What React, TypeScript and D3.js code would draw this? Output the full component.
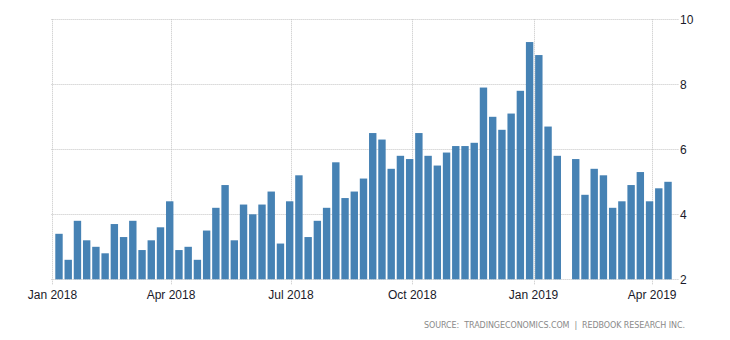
import React from "react";
import * as d3 from "d3";

const weekDates: string[] = [
  "2018-01-06","2018-01-13","2018-01-20","2018-01-27",
  "2018-02-03","2018-02-10","2018-02-17","2018-02-24",
  "2018-03-03","2018-03-10","2018-03-17","2018-03-24","2018-03-31",
  "2018-04-07","2018-04-14","2018-04-21","2018-04-28",
  "2018-05-05","2018-05-12","2018-05-19","2018-05-26",
  "2018-06-02","2018-06-09","2018-06-16","2018-06-23","2018-06-30",
  "2018-07-07","2018-07-14","2018-07-21","2018-07-28",
  "2018-08-04","2018-08-11","2018-08-18","2018-08-25",
  "2018-09-01","2018-09-08","2018-09-15","2018-09-22","2018-09-29",
  "2018-10-06","2018-10-13","2018-10-20","2018-10-27",
  "2018-11-03","2018-11-10","2018-11-17","2018-11-24",
  "2018-12-01","2018-12-08","2018-12-15","2018-12-22","2018-12-29",
  "2019-01-05","2019-01-12","2019-01-19","2019-01-26",
  "2019-02-02","2019-02-09","2019-02-16","2019-02-23",
  "2019-03-02","2019-03-09","2019-03-16","2019-03-23","2019-03-30",
  "2019-04-06","2019-04-13",
];

const salesGrowth: (number | null)[] = [
  3.4, 2.6, 3.8, 3.2, 3.0, 2.8, 3.7, 3.3, 3.8, 2.9, 3.2, 3.6, 4.4,
  2.9, 3.0, 2.6, 3.5, 4.2, 4.9, 3.2, 4.3, 4.0, 4.3, 4.7, 3.1, 4.4,
  5.2, 3.3, 3.8, 4.2, 5.6, 4.5, 4.7, 5.1, 6.5, 6.3, 5.4, 5.8, 5.7,
  6.5, 5.8, 5.5, 5.9, 6.1, 6.1, 6.2, 7.9, 7.0, 6.6, 7.1, 7.8, 9.3,
  8.9, 6.7, 5.8, null, 5.7, 4.6, 5.4, 5.2, 4.2, 4.4, 4.9, 5.3, 4.4,
  4.8, 5.0,
];

const xTickDates: string[] = ["2018-01-01", "2018-04-01", "2018-07-01", "2018-10-01", "2019-01-01", "2019-04-01"];
const xTickLabels: string[] = ["Jan 2018", "Apr 2018", "Jul 2018", "Oct 2018", "Jan 2019", "Apr 2019"];
const yTicks: number[] = [2, 4, 6, 8, 10];
const sourceText = "SOURCE:  TRADINGECONOMICS.COM  |  REDBOOK RESEARCH INC.";

const parse = d3.utcParse("%Y-%m-%d");

export default function App() {
  const width = 730;
  const height = 340;
  const left = 52.4;
  const right = 676;

  const x = d3
    .scaleUtc()
    .domain([parse("2018-01-01")!, parse("2019-04-01")!])
    .range([left, 652.2]);
  const y = d3.scaleLinear().domain([2, 10]).range([279.3, 19.3]);

  const barW = 7.4;
  const gridColor = "#c4c4c4";
  const font = "'Liberation Sans', Arial, sans-serif";

  return (
    <svg
      width={width}
      height={height}
      style={{ position: "absolute", left: 0, top: 0, background: "#fff" }}
      fontFamily={font}
    >
      {/* horizontal gridlines */}
      {yTicks.map((t) => (
        <line
          key={"h" + t}
          x1={left - 1}
          x2={right + 3}
          y1={Math.round(y(t)) + 0.5}
          y2={Math.round(y(t)) + 0.5}
          stroke={gridColor}
          strokeDasharray="1,1"
        />
      ))}
      {/* vertical gridlines */}
      {xTickDates.map((d) => {
        const xx = Math.round(x(parse(d)!)) + 0.5;
        return (
          <line
            key={"v" + d}
            x1={xx}
            x2={xx}
            y1={y(10)}
            y2={y(2) + 5}
            stroke={gridColor}
            strokeDasharray="1,1"
          />
        );
      })}
      {/* bars */}
      {salesGrowth.map((v, i) =>
        v === null ? null : (
          <rect
            key={"b" + i}
            x={x(parse(weekDates[i])!) - barW / 2}
            y={y(v)}
            width={barW}
            height={y(2) - y(v)}
            fill="#4682b4"
          />
        )
      )}
      {/* y labels */}
      {yTicks.map((t) => (
        <text
          key={"yl" + t}
          x={680}
          y={y(t)}
          dy="0.36em"
          fontSize={12}
          fill="#1a1a2a"
        >
          {t}
        </text>
      ))}
      {/* x labels */}
      {xTickDates.map((d, i) => (
        <text
          key={"xl" + d}
          x={x(parse(d)!)}
          y={299}
          textAnchor="middle"
          fontSize={12}
          fill="#1a1a2a"
        >
          {xTickLabels[i]}
        </text>
      ))}
      <text
        x={424}
        y={328}
        fontSize={8}
        fill="#8a8a8a"
        textLength={261}
        lengthAdjust="spacing"
        xmlSpace="preserve"
        style={{ whiteSpace: "pre" }}
        fontFamily="'DejaVu Sans', Verdana, sans-serif"
      >
        {sourceText}
      </text>
    </svg>
  );
}
